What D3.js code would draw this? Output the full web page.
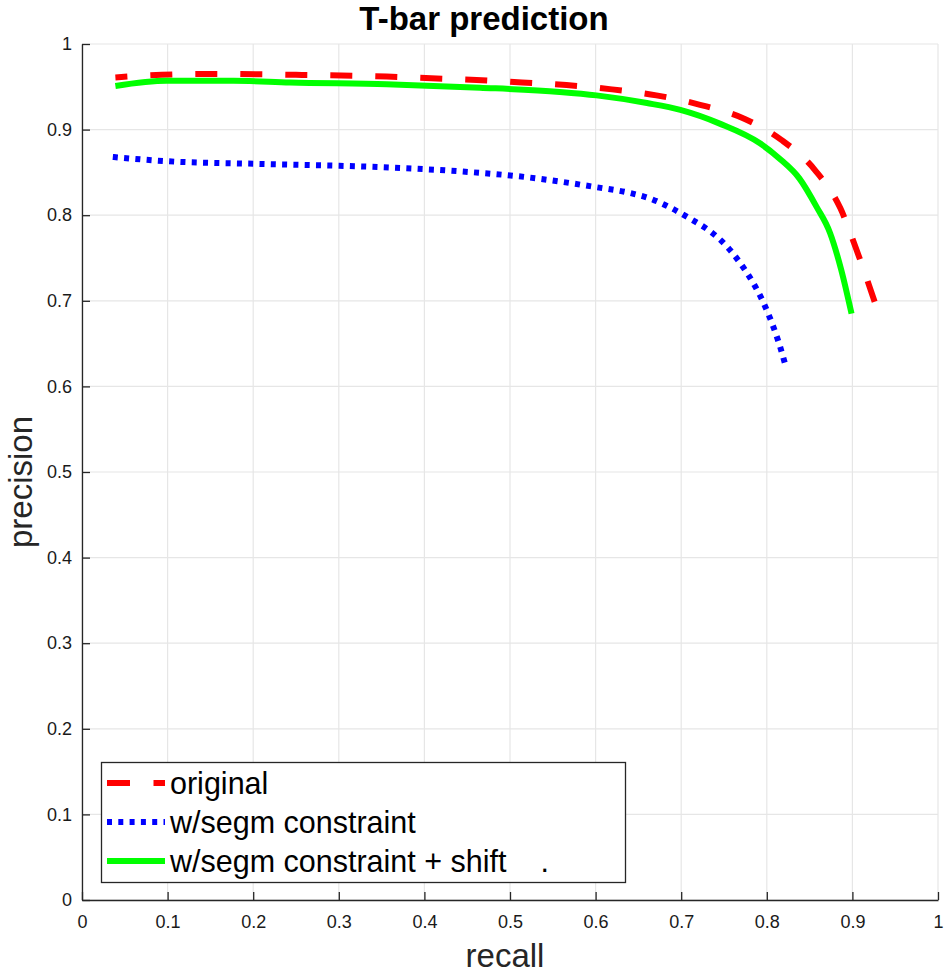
<!DOCTYPE html>
<html><head><meta charset="utf-8">
<script src="https://cdn.jsdelivr.net/npm/d3@7"></script>
<style>body{margin:0;background:#fff}svg{display:block}text{font-family:"Liberation Sans",Arial,sans-serif}</style>
</head><body>
<svg id="chart" width="945" height="974"></svg>
<script>
const title = "T-bar prediction";
const xLabel = "recall";
const yLabel = "precision";
const ticks = [0,0.1,0.2,0.3,0.4,0.5,0.6,0.7,0.8,0.9,1];
const seriesNames = ["original","w/segm constraint","w/segm constraint + shift    ."];
const originalRecall    = [0.039,0.093,0.15,0.25,0.356,0.408,0.461,0.514,0.566,0.619,0.671,0.722,0.773,0.817,0.856,0.886,0.905,0.926];
const originalPrecision = [0.961,0.964,0.965,0.964,0.962,0.960,0.958,0.955,0.952,0.947,0.940,0.929,0.913,0.888,0.853,0.808,0.759,0.699];
const segmRecall    = [0.036,0.1,0.204,0.352,0.445,0.523,0.599,0.640,0.662,0.689,0.712,0.734,0.753,0.769,0.784,0.796,0.806,0.815,0.822];
const segmPrecision = [0.868,0.863,0.860,0.856,0.851,0.844,0.833,0.826,0.820,0.808,0.795,0.781,0.764,0.744,0.721,0.698,0.674,0.648,0.624];
const shiftRecall    = [0.039,0.099,0.177,0.243,0.356,0.465,0.558,0.601,0.660,0.699,0.745,0.792,0.815,0.838,0.858,0.874,0.887,0.899];
const shiftPrecision = [0.951,0.957,0.957,0.955,0.953,0.949,0.944,0.940,0.931,0.923,0.907,0.884,0.866,0.843,0.810,0.779,0.736,0.685];

const svg = d3.select("#chart");
const L=82, R=938, T=44, B=900;
const x = d3.scaleLinear().domain([0,1]).range([L,R]);
const y = d3.scaleLinear().domain([0,1]).range([B,T]);
const axisColor="#262626";

// grid
const g = svg.append("g");
g.selectAll(".gx").data(ticks).enter().append("line")
 .attr("x1",d=>x(d)).attr("x2",d=>x(d)).attr("y1",T).attr("y2",B)
 .attr("stroke","#e6e6e6").attr("stroke-width",1.2);
g.selectAll(".gy").data(ticks).enter().append("line")
 .attr("y1",d=>y(d)).attr("y2",d=>y(d)).attr("x1",L).attr("x2",R)
 .attr("stroke","#e6e6e6").attr("stroke-width",1.2);

// axes
const xAxis = d3.axisBottom(x).tickValues(ticks).tickSizeInner(-8).tickSizeOuter(0).tickPadding(15).tickFormat(d3.format("~g"));
const yAxis = d3.axisLeft(y).tickValues(ticks).tickSizeInner(-8).tickSizeOuter(0).tickPadding(10).tickFormat(d3.format("~g"));
const gx = svg.append("g").attr("transform",`translate(0,${B})`).call(xAxis);
const gy = svg.append("g").attr("transform",`translate(${L},0)`).call(yAxis);
[gx,gy].forEach(a=>{
  a.select(".domain").attr("stroke",axisColor).attr("stroke-width",1.3);
  a.selectAll(".tick line").attr("stroke",axisColor).attr("stroke-width",1.3);
  a.selectAll("text").attr("fill","#1a1a1a").style("font-size","18px").style("font-family","'Liberation Sans',Arial,sans-serif");
});

// lines
const series = [
  {r:originalRecall,p:originalPrecision,color:"#ff0000",dash:"22,23",off:10,w:6},
  {r:segmRecall,p:segmPrecision,color:"#0000ff",dash:"5,6.3",off:0,w:6},
  {r:shiftRecall,p:shiftPrecision,color:"#00ff00",dash:null,off:0,w:6}
];
const line = d3.line().curve(d3.curveMonotoneX).x(d=>x(d[0])).y(d=>y(d[1]));
series.forEach(s=>{
  const pts = s.r.map((v,i)=>[v,s.p[i]]);
  const path = svg.append("path").datum(pts).attr("d",line)
   .attr("fill","none").attr("stroke",s.color).attr("stroke-width",s.w)
   .attr("stroke-linejoin","round");
  if(s.dash) path.attr("stroke-dasharray",s.dash).attr("stroke-dashoffset",s.off);
});

// legend
const lg = svg.append("g");
lg.append("rect").attr("x",101.5).attr("y",762.5).attr("width",524).attr("height",120)
 .attr("fill","#fff").attr("stroke","#262626").attr("stroke-width",1.3);
const lineY=[783,822,861], textY=[794,833,871.5];
series.forEach((s,i)=>{
  const ln = lg.append("line").attr("x1",107).attr("x2",165).attr("y1",lineY[i]).attr("y2",lineY[i])
   .attr("stroke",s.color).attr("stroke-width",6);
  if(i===0) ln.attr("stroke-dasharray","23,23.5");
  if(i===1) ln.attr("stroke-dasharray","5,6.3");
  lg.append("text").attr("x",170).attr("y",textY[i])
   .style("font-size","30.5px").style("white-space","pre").attr("fill","#000").text(seriesNames[i]);
});

// labels
svg.append("text").attr("x",484).attr("y",30).attr("text-anchor","middle")
 .style("font-size","33px").style("font-weight","bold").attr("fill","#000").text(title);
svg.append("text").attr("x",505).attr("y",967).attr("text-anchor","middle")
 .style("font-size","33px").attr("fill","#262626").text(xLabel);
svg.append("text").attr("transform","translate(32,482) rotate(-90)").attr("text-anchor","middle")
 .style("font-size","33px").attr("fill","#262626").text(yLabel);
</script>
</body></html>
